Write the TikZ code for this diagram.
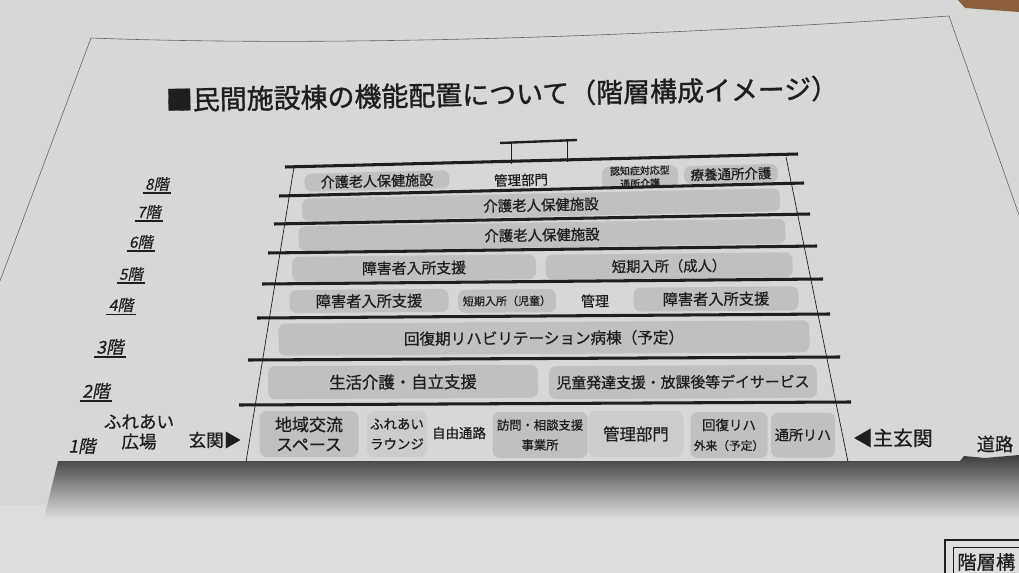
\documentclass[tikz,border=0pt]{standalone}
\usepackage{fontspec}
\newfontfamily\jp[FakeBold=0.7]{Noto Sans CJK JP}
\newfontfamily\jptitle[FakeBold=1.2]{Noto Sans CJK JP}
\newfontfamily\jpsl[FakeSlant=0.2, FakeBold=0.6]{Noto Sans CJK JP}
\newcommand{\jpsize}[2]{\fontsize{#1}{#2}\selectfont}
\definecolor{paper}{HTML}{D5D8D4}
\definecolor{paperlo}{HTML}{DCDEDB}
\definecolor{roomgray}{HTML}{BEC1BE}
\definecolor{roomfaint}{HTML}{CACDCA}
\definecolor{ink}{HTML}{1E1E1E}
\definecolor{ground}{HTML}{3C3C3C}
\definecolor{table}{HTML}{8B5E3C}

\begin{document}
\begin{tikzpicture}[x=0.03cm, y=-0.03cm,
  floor/.style={line width=2.6pt, draw=ink},
  wall/.style={line width=0.6pt, draw=ink},
  room/.style 2 args={fill=roomgray, rounded corners=6pt, inner sep=0pt,
    minimum width=#1*0.03cm, minimum height=#2*0.03cm, text=ink, align=center},
  faint/.style={fill=roomfaint},
  note/.style={text=ink, align=center, inner sep=0pt},
  flr/.style={text=ink, inner xsep=2pt, inner ysep=1.5pt},
  ul/.style={line width=1.1pt, draw=ink}]
\useasboundingbox (0,0) rectangle (1019,573);
\clip (0,0) rectangle (1019,573);

% sheet and ground
\fill[paper] (0,0) rectangle (1019,573);
\fill[paperlo] (0,505) rectangle (1019,573);
\fill[table] (958,0) -- (1019,0) -- (1019,12) -- (965,8) -- cycle;
\draw[line width=0.5pt, ink!70] (0,281) -- (91,38) .. controls (300,46) and (600,40) .. (949,16) -- (1019,215);
\shade[top color=ground, middle color=gray!75, bottom color=paperlo]
  (58,461) -- (960,461) -- (964,456) -- (985,458) -- (1019,455) -- (1019,518) -- (44,518) -- cycle;

% title
\node[note, rotate=1, font=\jptitle\jpsize{23}{23}] (title) at (502,94) {■民間施設棟の機能配置について（階層構成イメージ）};

% roof frame
\draw[line width=2pt, ink] (500,143) -- (577,140);
\draw[wall] (511,143) -- (511,164) (567,141) -- (567,162);

% 8F
\node[room={145}{18}, rotate=1.4, font=\jp\jpsize{12}{12}] (r8a) at (377,181) {介護老人保健施設};
\node[note, rotate=1.4, font=\jp\jpsize{11.5}{11.5}] (t8b) at (521,180) {管理部門};
\node[room={76}{22}, rotate=1.4, font=\jp\jpsize{8.5}{11}] (r8c) at (640,177) {認知症対応型\\通所介護};
\node[room={94}{18}, rotate=1.4, font=\jp\jpsize{11.5}{11.5}] (r8d) at (731,174) {療養通所介護};
% 7F, 6F
\node[room={478}{23}, rotate=1.25, font=\jp\jpsize{12.3}{12.3}] (r7) at (541,205) {介護老人保健施設};
\node[room={487}{25}, rotate=0.9, font=\jp\jpsize{12.3}{12.3}] (r6) at (542,235) {介護老人保健施設};
% 5F
\node[room={244}{25}, rotate=0.6, font=\jp\jpsize{12.7}{12.7}] (r5a) at (414,268) {障害者入所支援};
\node[room={247}{25}, rotate=0.6, font=\jp\jpsize{12.2}{12.2}] (r5b) at (669,266) {短期入所（成人）};
% 4F
\node[room={159}{23}, rotate=0.45, font=\jp\jpsize{13}{13}] (r4a) at (369,301) {障害者入所支援};
\node[room={98}{23}, rotate=0.45, font=\jp\jpsize{9.4}{9.4}] (r4b) at (507,301) {短期入所（児童）};
\node[note, rotate=0.45, font=\jp\jpsize{12}{12}] (t4c) at (595,301) {管理};
\node[room={165}{24}, rotate=0.45, font=\jp\jpsize{13}{13}] (r4d) at (716,299) {障害者入所支援};
% 3F
\node[room={531}{32}, rotate=0.35, font=\jp\jpsize{13.3}{13.3}] (r3) at (544,338) {回復期リハビリテーション病棟（予定）};
% 2F
\node[room={270}{33}, rotate=0.3, font=\jp\jpsize{14}{14}] (r2a) at (403,382) {生活介護・自立支援};
\node[room={268}{33}, rotate=0.3, font=\jp\jpsize{12.7}{12.7}] (r2b) at (683,382) {児童発達支援・放課後等デイサービス};
% 1F
\node[room={99}{46}, font=\jp\jpsize{14.5}{17}] (r1a) at (309,434) {地域交流\\スペース};
\node[room={60}{46}, faint, font=\jp\jpsize{11.5}{17}] (r1b) at (397,434) {ふれあい\\ラウンジ};
\node[note, font=\jp\jpsize{11.5}{11.5}] (t1c) at (459,433) {自由通路};
\node[room={95}{46}, font=\jp\jpsize{10.5}{17}] (r1d) at (540,435) {訪問・相談支援\\事業所};
\node[room={95}{46}, faint, font=\jp\jpsize{14}{14}] (r1e) at (636,434) {管理部門};
\node[room={77}{46}, font=\jp\jpsize{10}{17}] (r1f) at (729,435) {{\jpsize{11.5}{17}回復リハ}\\外来（予定）};
\node[room={64}{45}, font=\jp\jpsize{12}{12}] (r1g) at (803,435) {通所リハ};

% floor slabs and walls
\foreach \ax/\ay/\bx/\by in {285/167/798/154, 279/196/804/183, 274/224/810/214, 268/253/817/246,
  262/284/823/279, 257/318/830/314, 248/360/840/357, 239/405/851/402}
  \draw[floor] (\ax,\ay) -- (\bx,\by);
\draw[wall] (294,167) -- (246,462);
\draw[wall] (786,157) -- (848,462);

% floor labels
\foreach \n/\x/\y/\s in {8/157/184/13, 7/149/212/13, 6/141/242/13, 5/131/274/13,
  4/121/305/13.5, 3/110/347/15, 2/96/391/15}{
  \node[flr, font=\jpsl\jpsize{\s}{\s}] (f\n) at (\x,\y) {\n{}階};
  \draw[ul] (f\n.south west) -- (f\n.south east);
}
\node[note, font=\jpsl\jpsize{15}{15}] (f1) at (82,446) {1階};
\node[note, font=\jp\jpsize{15}{17}] (plaza) at (139,432) {ふれあい\\広場};
\node[note, font=\jp\jpsize{15}{15}] (ent) at (215,440) {玄関▶};
\node[note, font=\jp\jpsize{17}{17}] (mainent) at (893,438) {◀主玄関};
\node[note, font=\jp\jpsize{15.5}{15.5}] (road) at (995,444) {道路};

% next sheet
\draw[line width=1.5pt, ink] (945,573) -- (945,540) -- (1019,540);
\draw[line width=0.6pt, ink] (953,573) -- (953,547) -- (1019,547);
\node[note, anchor=west, font=\jp\jpsize{16.5}{16.5}] (nextttl) at (957,562) {階層構};
\end{tikzpicture}
\end{document}
